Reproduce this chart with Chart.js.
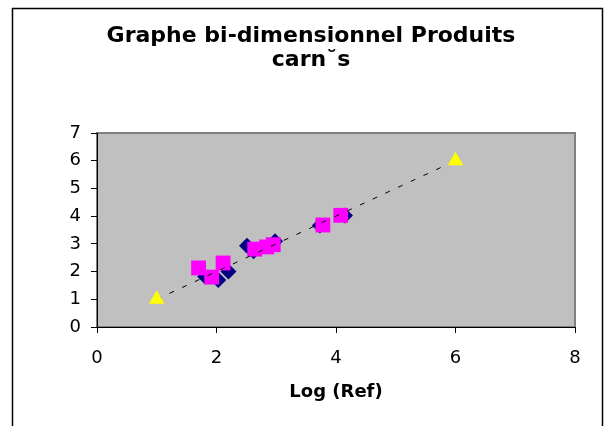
<!DOCTYPE html>
<html>
<head>
<meta charset="utf-8">
<script src="https://cdn.jsdelivr.net/npm/chart.js@4/dist/chart.umd.min.js"></script>
<style>
  html, body { margin: 0; padding: 0; background: #fff; }
  #wrap { width: 605px; height: 426px; }
</style>
</head>
<body>
<div id="wrap"><canvas id="graphe"></canvas></div>
<script>
// Série 1 (losanges bleus)
const seriesDiamondX = [2.51, 2.62, 2.98, 2.20, 2.03, 1.81, 3.73, 4.15];
const seriesDiamondY = [2.93, 2.73, 3.09, 2.00, 1.70, 1.82, 3.66, 4.02];

// Série 2 (carrés roses)
const seriesSquareX = [1.70, 1.92, 2.11, 2.64, 2.84, 2.95, 3.78, 4.08];
const seriesSquareY = [2.13, 1.80, 2.31, 2.81, 2.89, 2.97, 3.68, 4.03];

// Référence (triangles jaunes + droite pointillée)
const refX = [1, 6];
const refY = [1, 6];

const xTicks = [0, 2, 4, 6, 8];
const yTicks = [0, 1, 2, 3, 4, 5, 6, 7];

function toPoints(xs, ys) {
  return xs.map((x, i) => ({ x: x, y: ys[i] }));
}

// fond gris de la zone de tracé, bordure et cadre extérieur
const frameBackground = {
  id: 'frameBackground',
  beforeDraw(chart) {
    const ctx = chart.ctx;
    const a = chart.chartArea;
    ctx.save();
    ctx.fillStyle = '#ffffff';
    ctx.fillRect(0, 0, chart.width, chart.height);
    ctx.strokeStyle = '#000000';
    ctx.lineWidth = 1.5;
    ctx.strokeRect(12.5, 8.5, 590, 440);
    ctx.fillStyle = '#c0c0c0';
    ctx.fillRect(a.left, a.top, a.right - a.left, a.bottom - a.top);
    ctx.strokeStyle = '#808080';
    ctx.lineWidth = 2;
    ctx.strokeRect(a.left, a.top, a.right - a.left, a.bottom - a.top);
    ctx.restore();
  }
};

const font = '"DejaVu Sans", Verdana, sans-serif';

new Chart(document.getElementById('graphe'), {
  type: 'scatter',
  data: {
    datasets: [
      {
        label: 'Référence',
        data: toPoints(refX, refY),
        showLine: true,
        borderColor: '#000000',
        borderWidth: 1,
        borderDash: [5, 9],
        pointStyle: 'triangle',
        pointRadius: 9,
        pointBackgroundColor: '#ffff00',
        pointBorderColor: '#ffff00',
        pointBorderWidth: 0
      },
      {
        label: 'Série 2',
        data: toPoints(seriesSquareX, seriesSquareY),
        pointStyle: 'rect',
        pointRadius: 10.5,
        pointBackgroundColor: '#ff00ff',
        pointBorderColor: '#ff00ff',
        pointBorderWidth: 0
      },
      {
        label: 'Série 1',
        data: toPoints(seriesDiamondX, seriesDiamondY),
        pointStyle: 'rectRot',
        pointRadius: 8,
        pointBackgroundColor: '#000080',
        pointBorderColor: '#000080',
        pointBorderWidth: 0
      }
    ]
  },
  options: {
    responsive: true,
    maintainAspectRatio: false,
    animation: false,
    layout: { padding: { top: 8, right: 30, bottom: 0, left: 47 } },
    plugins: {
      legend: { display: false },
      tooltip: { enabled: false },
      title: {
        display: true,
        text: ['Graphe bi-dimensionnel Produits', 'carn˘s'],
        color: '#000000',
        font: { family: font, size: 22, weight: 'bold', lineHeight: 24 / 22 },
        padding: { top: 16, bottom: 61 }
      }
    },
    scales: {
      x: {
        type: 'linear',
        min: 0,
        max: 8,
        afterBuildTicks: (scale) => { scale.ticks = xTicks.map(v => ({ value: v })); },
        afterFit: (scale) => { scale.height = 99; },
        border: { display: true, color: '#000000', width: 1 },
        grid: { drawOnChartArea: false, color: '#000000', tickLength: 6 },
        ticks: { color: '#000000', font: { family: font, size: 18 }, padding: 15, maxRotation: 0 },
        title: {
          display: true,
          text: 'Log (Ref)',
          color: '#000000',
          font: { family: font, size: 18, weight: 'bold' },
          padding: { top: 0, bottom: 23 }
        }
      },
      y: {
        type: 'linear',
        min: 0,
        max: 7,
        afterBuildTicks: (scale) => { scale.ticks = yTicks.map(v => ({ value: v })); },
        afterFit: (scale) => { scale.width = 50; },
        border: { display: true, color: '#000000', width: 1 },
        grid: { drawOnChartArea: false, color: '#000000', tickLength: 6 },
        ticks: { color: '#000000', font: { family: font, size: 18 }, padding: 10 }
      }
    }
  },
  plugins: [frameBackground]
});
</script>
</body>
</html>
